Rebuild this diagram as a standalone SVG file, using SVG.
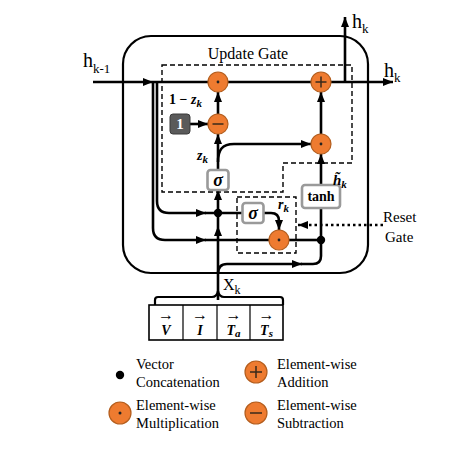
<svg xmlns="http://www.w3.org/2000/svg" width="474" height="450" viewBox="0 0 474 450">
<defs>
<marker id="ah" markerUnits="userSpaceOnUse" markerWidth="10" markerHeight="10" viewBox="0 0 10 10" refX="10" refY="5" orient="auto">
<path d="M0,1 L10,5 L0,9 Z" fill="#000"/>
</marker>
<g id="op">
<circle r="10" fill="#EE7B30" stroke="#B45E1E" stroke-width="1.2"/>
</g>
</defs>
<style>
.ln{fill:none;stroke:#000;stroke-width:2.6}
.dash{fill:none;stroke:#000;stroke-width:1.4;stroke-dasharray:5 3}
.box{fill:#fff;stroke:#9a9a9a;stroke-width:2.6}
.t{font-family:"Liberation Serif","Times New Roman",serif;fill:#000}
.bi{font-family:"Liberation Serif","Times New Roman",serif;font-weight:bold;font-style:italic;fill:#000}
.b{font-family:"Liberation Serif","Times New Roman",serif;font-weight:bold;fill:#000}
.sym{stroke:#3a2a1a;stroke-width:1.5;fill:none}
</style>

<rect id="cell" x="123" y="36" width="245" height="237" rx="28" ry="28" fill="none" stroke="#000" stroke-width="2.2"/>

<g id="update-gate">
<path class="dash" d="M162,65 H352 V163 H283 V192 H162 Z"/>
<text class="t" x="248" y="59" font-size="16" text-anchor="middle">Update Gate</text>
</g>
<g id="reset-gate">
<rect class="dash" x="237" y="197" width="59" height="56"/>
</g>

<g id="connectors">
<path class="ln" d="M93,82 H153" marker-end="url(#ah)"/>
<path class="ln" d="M153,82 H393" marker-end="url(#ah)"/>
<path class="ln" d="M345,82 V17" marker-end="url(#ah)"/>
<path class="ln" d="M218,114 V92" marker-end="url(#ah)"/>
<path class="ln" d="M190,124 H208" marker-end="url(#ah)"/>
<path class="ln" d="M218,170 V134" marker-end="url(#ah)"/>
<path class="ln" d="M218,162 C218,150 222,144 234,144 H311" marker-end="url(#ah)"/>
<path class="ln" d="M321,134 V92" marker-end="url(#ah)"/>
<path class="ln" d="M321,185 V154" marker-end="url(#ah)"/>
<path class="ln" d="M218,300 V226" marker-end="url(#ah)"/>
<path class="ln" d="M218,226 V190" marker-end="url(#ah)"/>
<path class="ln" d="M157,82 V201 Q157,213 169,213 H206" marker-end="url(#ah)"/>
<path class="ln" d="M205,213 H242"/>
<path class="ln" d="M153,82 V228 Q153,240 165,240 H206" marker-end="url(#ah)"/>
<path class="ln" d="M205,240 H269"/>
<path class="ln" d="M289,240 H321"/>
<path class="ln" d="M264,213 H271 Q279,213 279,221 V230" marker-end="url(#ah)"/>
<path class="ln" d="M218,274 Q218,264 227,264 H302" marker-end="url(#ah)"/>
<path class="ln" d="M301,264 H313 Q321,264 321,256 V208"/>
<path d="M383,225 H298" fill="none" stroke="#000" stroke-width="2.6" stroke-dasharray="2.5 3" marker-end="url(#ah)"/>
<circle cx="218" cy="213" r="4.2" fill="#000"/>
<circle cx="321" cy="240" r="4.2" fill="#000"/>
</g>

<g id="mul-top" transform="translate(218,82)"><use href="#op"/><circle r="1.4" fill="#222"/></g>
<g id="add-top" transform="translate(321,82)"><use href="#op"/><path class="sym" d="M-5.5,0 H5.5 M0,-5.5 V5.5"/></g>
<g id="sub" transform="translate(218,124)"><use href="#op"/><path class="sym" d="M-5.5,0 H5.5"/></g>
<g id="mul-right" transform="translate(321,144)"><use href="#op"/><circle r="1.4" fill="#222"/></g>
<g id="mul-reset" transform="translate(279,240)"><use href="#op"/><circle r="1.4" fill="#222"/></g>

<g id="one">
<rect x="170" y="114" width="20" height="20" rx="3" fill="#5a5a5a" stroke="#3a3a3a" stroke-width="1"/>
<text class="b" x="180" y="129" font-size="15" text-anchor="middle" style="fill:#fff">1</text>
</g>
<g id="sigma-update">
<rect class="box" x="207.5" y="170" width="21" height="20" rx="3"/>
<text class="bi" x="218" y="186" font-size="18" text-anchor="middle">σ</text>
</g>
<g id="sigma-reset">
<rect class="box" x="242.5" y="203" width="21" height="20" rx="3"/>
<text class="bi" x="253" y="219" font-size="18" text-anchor="middle">σ</text>
</g>
<g id="tanh">
<rect class="box" x="302" y="185" width="38" height="23" rx="3"/>
<text class="b" x="321" y="201" font-size="14" text-anchor="middle">tanh</text>
</g>

<g id="labels">
<text class="t" x="83" y="67" font-size="20">h<tspan font-size="13" dy="6">k-1</tspan></text>
<text class="t" x="352" y="28" font-size="20">h<tspan font-size="13" dy="5">k</tspan></text>
<text class="t" x="384" y="77" font-size="20">h<tspan font-size="13" dy="5">k</tspan></text>
<text class="b" x="169" y="104" font-size="14">1 − <tspan class="bi">z</tspan><tspan class="bi" font-size="11" dy="3">k</tspan></text>
<text class="bi" x="197" y="160" font-size="14">z<tspan font-size="11" dy="3">k</tspan></text>
<text class="bi" x="278" y="209" font-size="14">r<tspan font-size="11" dy="3">k</tspan></text>
<text class="bi" x="333" y="185" font-size="15">h&#x303;<tspan font-size="11" dy="3">k</tspan></text>
<text class="t" x="383" y="222" font-size="15">Reset</text>
<text class="t" x="385" y="242" font-size="15">Gate</text>
<text class="t" x="223" y="290" font-size="16">X<tspan font-size="12" dy="4">k</tspan></text>
</g>

<g id="input">
<path d="M155,305 V300 Q155,297 158,297 H212 Q217,297 218,291 Q219,297 224,297 H280 Q283,297 283,300 V305" fill="none" stroke="#000" stroke-width="2.2"/>
<rect x="149" y="305" width="134" height="35" fill="#fff" stroke="#000" stroke-width="1.6"/>
<path d="M183,305 V340 M217,305 V340 M250,305 V340" stroke="#000" stroke-width="1.2"/>
<g text-anchor="middle">
<text class="b" x="166" y="320" font-size="16">→</text>
<text class="b" x="200" y="320" font-size="16">→</text>
<text class="b" x="233.5" y="320" font-size="16">→</text>
<text class="b" x="266.5" y="320" font-size="16">→</text>
<text class="bi" x="166" y="335" font-size="14">V</text>
<text class="bi" x="200" y="335" font-size="14">I</text>
<text class="bi" x="233.5" y="335" font-size="14">T<tspan font-size="11" dy="2">a</tspan></text>
<text class="bi" x="266.5" y="335" font-size="14">T<tspan font-size="11" dy="2">s</tspan></text>
</g>
</g>

<g id="legend">
<circle cx="120" cy="375" r="4.2" fill="#000"/>
<text class="t" x="136" y="369" font-size="14.5">Vector</text>
<text class="t" x="136" y="387" font-size="14.5">Concatenation</text>
<g transform="translate(256,372)"><circle r="11" fill="#EE7B30" stroke="#B45E1E" stroke-width="1.2"/><path class="sym" d="M-6,0 H6 M0,-6 V6"/></g>
<text class="t" x="277" y="369" font-size="14.5">Element-wise</text>
<text class="t" x="277" y="387" font-size="14.5">Addition</text>
<g transform="translate(120,413)"><circle r="11" fill="#EE7B30" stroke="#B45E1E" stroke-width="1.2"/><circle r="1.5" fill="#222"/></g>
<text class="t" x="136" y="410" font-size="14.5">Element-wise</text>
<text class="t" x="136" y="428" font-size="14.5">Multiplication</text>
<g transform="translate(256,413)"><circle r="11" fill="#EE7B30" stroke="#B45E1E" stroke-width="1.2"/><path class="sym" d="M-6,0 H6"/></g>
<text class="t" x="277" y="410" font-size="14.5">Element-wise</text>
<text class="t" x="277" y="428" font-size="14.5">Subtraction</text>
</g>
</svg>
